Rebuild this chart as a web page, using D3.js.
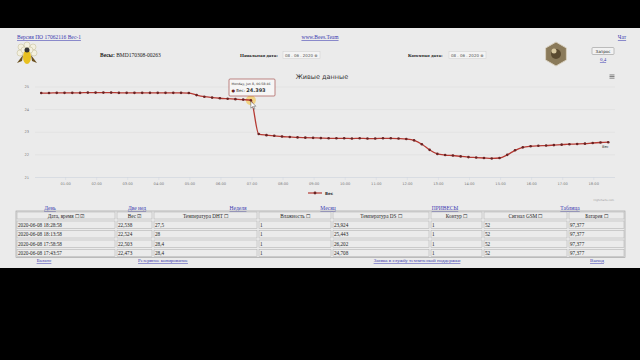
<!DOCTYPE html>
<html><head><meta charset="utf-8">
<script src="https://cdn.jsdelivr.net/npm/d3@7"></script>
<style>html,body{margin:0;padding:0;background:#000;}svg{display:block;}</style>
</head><body>
<svg id="c" width="640" height="360"></svg>
<script>
const times = ["00:13:58","00:28:58","00:43:58","00:58:58","01:13:58","01:28:58","01:43:58","01:58:58",
"02:13:58","02:28:58","02:43:58","02:58:58","03:13:58","03:28:58","03:43:58","03:58:58",
"04:13:58","04:28:58","04:43:58","04:58:58","05:13:58","05:28:58","05:43:58","05:58:58",
"06:13:58","06:28:58","06:43:58","06:58:46","07:13:58","07:28:58","07:43:58","07:58:58",
"08:13:58","08:28:58","08:43:58","08:58:58","09:13:58","09:28:58","09:43:58","09:58:58",
"10:13:58","10:28:58","10:43:58","10:58:58","11:13:58","11:28:58","11:43:58","11:58:58",
"12:13:58","12:28:58","12:43:58","12:58:58","13:13:58","13:28:58","13:43:58","13:58:58",
"14:13:58","14:28:58","14:43:58","14:58:58","15:13:58","15:28:58","15:43:58","15:58:58",
"16:13:58","16:28:58","16:43:58","16:58:58","17:13:58","17:28:58","17:43:57","17:58:58",
"18:13:58","18:28:58"];
const weight = [24.71,24.71,24.72,24.72,24.72,24.72,24.73,24.73,24.73,24.73,24.72,24.72,24.72,24.72,24.72,24.72,24.72,24.72,24.72,24.71,
24.62,24.55,24.51,24.48,24.46,24.44,24.42,24.393,
22.90,22.85,22.82,22.79,22.77,22.75,22.74,22.73,22.72,22.71,22.71,22.71,22.70,22.71,22.70,22.70,22.71,22.71,22.70,
22.68,22.62,22.45,22.20,22.02,21.97,21.95,21.91,21.88,21.86,21.84,21.82,21.84,
21.98,22.18,22.31,22.36,22.38,22.39,22.41,22.43,22.45,22.46,
22.473,22.503,22.524,22.538];
const xTickLabels = ["01:00","02:00","03:00","04:00","05:00","06:00","07:00","08:00","09:00","10:00","11:00","12:00","13:00","14:00","15:00","16:00","17:00","18:00"];
const yTicks = [21,22,23,24,25];
const seriesName = "Вес";
const tooltipIndex = 27;

const tableHeaders = ["Дата, время","Вес","Температура DHT","Влажность","Температура DS","Контур","Сигнал GSM","Батарея"];
const tableRows = [
 ["2020-06-08 18:28:58","22,538","27,5","1","23,924","1","52","97,377"],
 ["2020-06-08 18:13:58","22,524","28","1","25,443","1","52","97,377"],
 ["2020-06-08 17:58:58","22,503","28,4","1","26,202","1","52","97,377"],
 ["2020-06-08 17:43:57","22,473","28,4","1","24,708","1","52","97,377"]];
const menuLinks = ["День","Две нед","Неделя","Месяц","ПРИВЕСЫ","Таблица"];
const bottomLinks = ["Баланс","Резервное копирование","Заявка в службу технической поддержки","Выход"];

const svg = d3.select("#c");
const BG = "#ebebeb", LINK = "#3a3ab0", SERIF = "'Liberation Serif', 'DejaVu Serif', serif", SANS = "'DejaVu Sans', 'Liberation Sans', sans-serif";

svg.append("rect").attr("width",640).attr("height",360).attr("fill","#000");
svg.append("rect").attr("x",0).attr("y",28).attr("width",640).attr("height",240).attr("fill",BG);

function link(x,y,t,anchor,size){
  svg.append("text").attr("x",x).attr("y",y).attr("font-family",SERIF).attr("font-size",size||5.5)
   .attr("fill",LINK).attr("text-anchor",anchor||"start").attr("text-decoration","underline").text(t);
}
link(17,39,"Версия ПО 17062116 Вес-1");
link(320,39,"www.Bees.Team","middle");
link(622,39,"Чат","middle");

const bee = svg.append("g").attr("transform","translate(27,54)");
[[-6,-7],[0,-9],[6,-7],[-7,-1],[7,-1],[-3,-4],[3,-4]].forEach(p=>bee.append("circle").attr("cx",p[0]).attr("cy",p[1]).attr("r",3).attr("fill","#f3f0e0").attr("stroke","#c9c3a0").attr("stroke-width",0.6));
bee.append("ellipse").attr("cx",0).attr("cy",3).attr("rx",4).attr("ry",7).attr("fill","#e8c020");
bee.append("path").attr("d","M-4,1 L-10,9 L-5,7 Z M4,1 L10,9 L5,7 Z").attr("fill","#6a5020");
bee.append("circle").attr("cx",0).attr("cy",-4).attr("r",2.5).attr("fill","#333");

svg.append("text").attr("x",100).attr("y",57).attr("font-family",SERIF).attr("font-size",5.5).attr("fill","#222")
  .html('<tspan font-weight="bold">Весы:</tspan> BMD170308-00263');
function dateField(x,label,bx){
  svg.append("text").attr("x",x).attr("y",57).attr("font-family",SERIF).attr("font-size",5).attr("font-weight","bold").attr("fill","#222").text(label);
  svg.append("rect").attr("x",bx).attr("y",51.5).attr("width",37).attr("height",7).attr("fill","#f4f4f4").attr("stroke","#cfcfcf").attr("stroke-width",0.5);
  svg.append("text").attr("x",bx+2).attr("y",57).attr("font-family",SANS).attr("font-size",4).attr("fill","#555").text("08 . 06 . 2020 ⊗");
}
dateField(240,"Начальная дата:",283);
dateField(408,"Конечная дата:",449);
const hx=556, hy=54, hr=12;
svg.append("polygon").attr("points",d3.range(6).map(k=>{const a=Math.PI/3*k+Math.PI/6;return [hx+hr*Math.cos(a),hy+hr*Math.sin(a)].join(",");}).join(" "))
  .attr("fill","#8a7a5a").attr("stroke","#d8d0c0").attr("stroke-width",1);
svg.append("circle").attr("cx",hx).attr("cy",hy).attr("r",5).attr("fill","#5a4a30");
svg.append("circle").attr("cx",hx-2).attr("cy",hy-3).attr("r",2.5).attr("fill","#d8c8a0");
svg.append("rect").attr("x",592).attr("y",47.5).attr("width",22).attr("height",7).attr("rx",1).attr("fill","#f2f2f2").attr("stroke","#888").attr("stroke-width",0.5);
svg.append("text").attr("x",603).attr("y",53).attr("text-anchor","middle").attr("font-family",SANS).attr("font-size",4).attr("fill","#222").text("Запрос");
link(603,61,"0,4","middle",5);

const x = d3.scaleLinear().domain([0,18.7]).range([34,615]);
const y = d3.scaleLinear().domain([21,25]).range([177,86.5]);
const toH = s => {const p=s.split(":").map(Number); return p[0]+p[1]/60+p[2]/3600;};
const data = times.map((t,i)=>({h:toH(t), v:weight[i], t}));

svg.append("text").attr("x",322).attr("y",79).attr("text-anchor","middle").attr("font-family",SANS).attr("font-size",6.5).attr("fill","#333").text("Живые данные");
[0,1.6,3.2].forEach(d=>svg.append("rect").attr("x",609.5).attr("y",74.5+d).attr("width",5).attr("height",0.9).attr("fill","#777"));

const yAxis = d3.axisLeft(y).tickValues(yTicks).tickSize(-(615-35)).tickFormat(d3.format("d"));
const gy = svg.append("g").attr("transform","translate(35,0)").call(yAxis);
gy.select(".domain").remove();
gy.selectAll(".tick line").attr("stroke","#dddddd").attr("stroke-width",0.6);
gy.selectAll(".tick text").attr("x",-6).attr("font-family",SANS).attr("font-size",3.6).attr("fill","#777");

const xAxis = d3.axisBottom(x).tickValues(d3.range(1,xTickLabels.length+1)).tickFormat((d,i)=>xTickLabels[i]).tickSize(3);
const gx = svg.append("g").attr("transform","translate(0,177)").call(xAxis);
gx.select(".domain").attr("d","M35,0.5H615").attr("stroke","#d0d6e0").attr("stroke-width",0.6);
gx.selectAll(".tick line").attr("stroke","#d0d6e0").attr("stroke-width",0.5);
gx.selectAll(".tick text").attr("y",5).attr("font-family",SANS).attr("font-size",3.6).attr("fill","#777");

const line = d3.line().x(d=>x(d.h)).y(d=>y(d.v)).curve(d3.curveMonotoneX);
const hp = data[tooltipIndex];
svg.append("circle").attr("cx",x(hp.h)).attr("cy",y(hp.v)).attr("r",5).attr("fill","#f5c030").attr("opacity",0.55);
svg.append("path").datum(data).attr("d",line).attr("fill","none").attr("stroke","#b53a33").attr("stroke-width",1.3);
svg.append("g").selectAll("circle").data(data).join("circle")
  .attr("cx",d=>x(d.h)).attr("cy",d=>y(d.v)).attr("r",1.3).attr("fill","#6a2222");
const last = data[data.length-1];
svg.append("text").attr("x",x(last.h)-3).attr("y",y(last.v)+6).attr("text-anchor","middle").attr("font-family",SANS).attr("font-size",3.6).attr("fill","#333").text(seriesName);

const tx = 229, ty = 79;
svg.append("rect").attr("x",tx).attr("y",ty).attr("width",46).attr("height",17).attr("rx",1).attr("fill","#f7f7f7").attr("fill-opacity",0.9).attr("stroke","#9a3a35").attr("stroke-width",0.6);
svg.append("text").attr("x",tx+2.5).attr("y",ty+6).attr("font-family",SANS).attr("font-size",3.2).attr("fill","#333").text("Monday, Jun 8, "+hp.t);
svg.append("text").attr("x",tx+2.5).attr("y",ty+12.5).attr("font-family",SANS).attr("font-size",4).attr("fill","#333")
  .html('<tspan fill="#6a2222">●</tspan> '+seriesName+': <tspan font-weight="bold" font-size="5">'+d3.format(".3f")(hp.v)+'</tspan>');
svg.append("path").attr("transform",`translate(${x(hp.h)},${y(hp.v)+1})`).attr("d","M0,0 L0,7 L1.7,5.4 L3,8 L4,7.5 L2.8,5 L5,5 Z").attr("fill","#fff").attr("stroke","#222").attr("stroke-width",0.4);

svg.append("line").attr("x1",308).attr("x2",322).attr("y1",193).attr("y2",193).attr("stroke","#b53a33").attr("stroke-width",1.2);
svg.append("circle").attr("cx",315).attr("cy",193).attr("r",1.4).attr("fill","#6a2222");
svg.append("text").attr("x",325).attr("y",194.5).attr("font-family",SANS).attr("font-size",4).attr("font-weight","bold").attr("fill","#333").text(seriesName);
svg.append("text").attr("x",614).attr("y",201).attr("text-anchor","end").attr("font-family",SANS).attr("font-size",2.6).attr("fill","#999").text("Highcharts.com");

const menuX = [50,137,238,328,445,570];
menuLinks.forEach((t,i)=>link(menuX[i],210,t,"middle",5.5));

const colX = [16,116,153,258,332,430,483,568,625];
const rowY = [211,220,229.5,239,248.5,257.5];
svg.append("rect").attr("x",colX[0]).attr("y",rowY[0]).attr("width",colX[8]-colX[0]).attr("height",rowY[5]-rowY[0]).attr("fill","none").attr("stroke","#999").attr("stroke-width",0.6);
for(let r=0;r<5;r++) for(let c=0;c<8;c++){
  svg.append("rect").attr("x",colX[c]+1).attr("y",rowY[r]+1).attr("width",colX[c+1]-colX[c]-2).attr("height",rowY[r+1]-rowY[r]-2)
   .attr("fill","none").attr("stroke","#aaa").attr("stroke-width",0.5);
}
tableHeaders.forEach((h,c)=>{
  const boxes = c===0 ? " ☐ ☑" : (c===1 ? " ☑" : " ☐");
  svg.append("text").attr("x",(colX[c]+colX[c+1])/2).attr("y",rowY[0]+6.5).attr("text-anchor","middle")
   .attr("font-family",SERIF).attr("font-size",5.2).attr("fill","#222").text(h+boxes);
});
tableRows.forEach((row,r)=>row.forEach((v,c)=>{
  svg.append("text").attr("x",colX[c]+2).attr("y",rowY[r+1]+6.5).attr("font-family",SERIF).attr("font-size",5.2).attr("fill","#222").text(v);
}));

const botX = [44,163,417,597];
bottomLinks.forEach((t,i)=>link(botX[i],262,t,"middle",5));
</script>
</body></html>
